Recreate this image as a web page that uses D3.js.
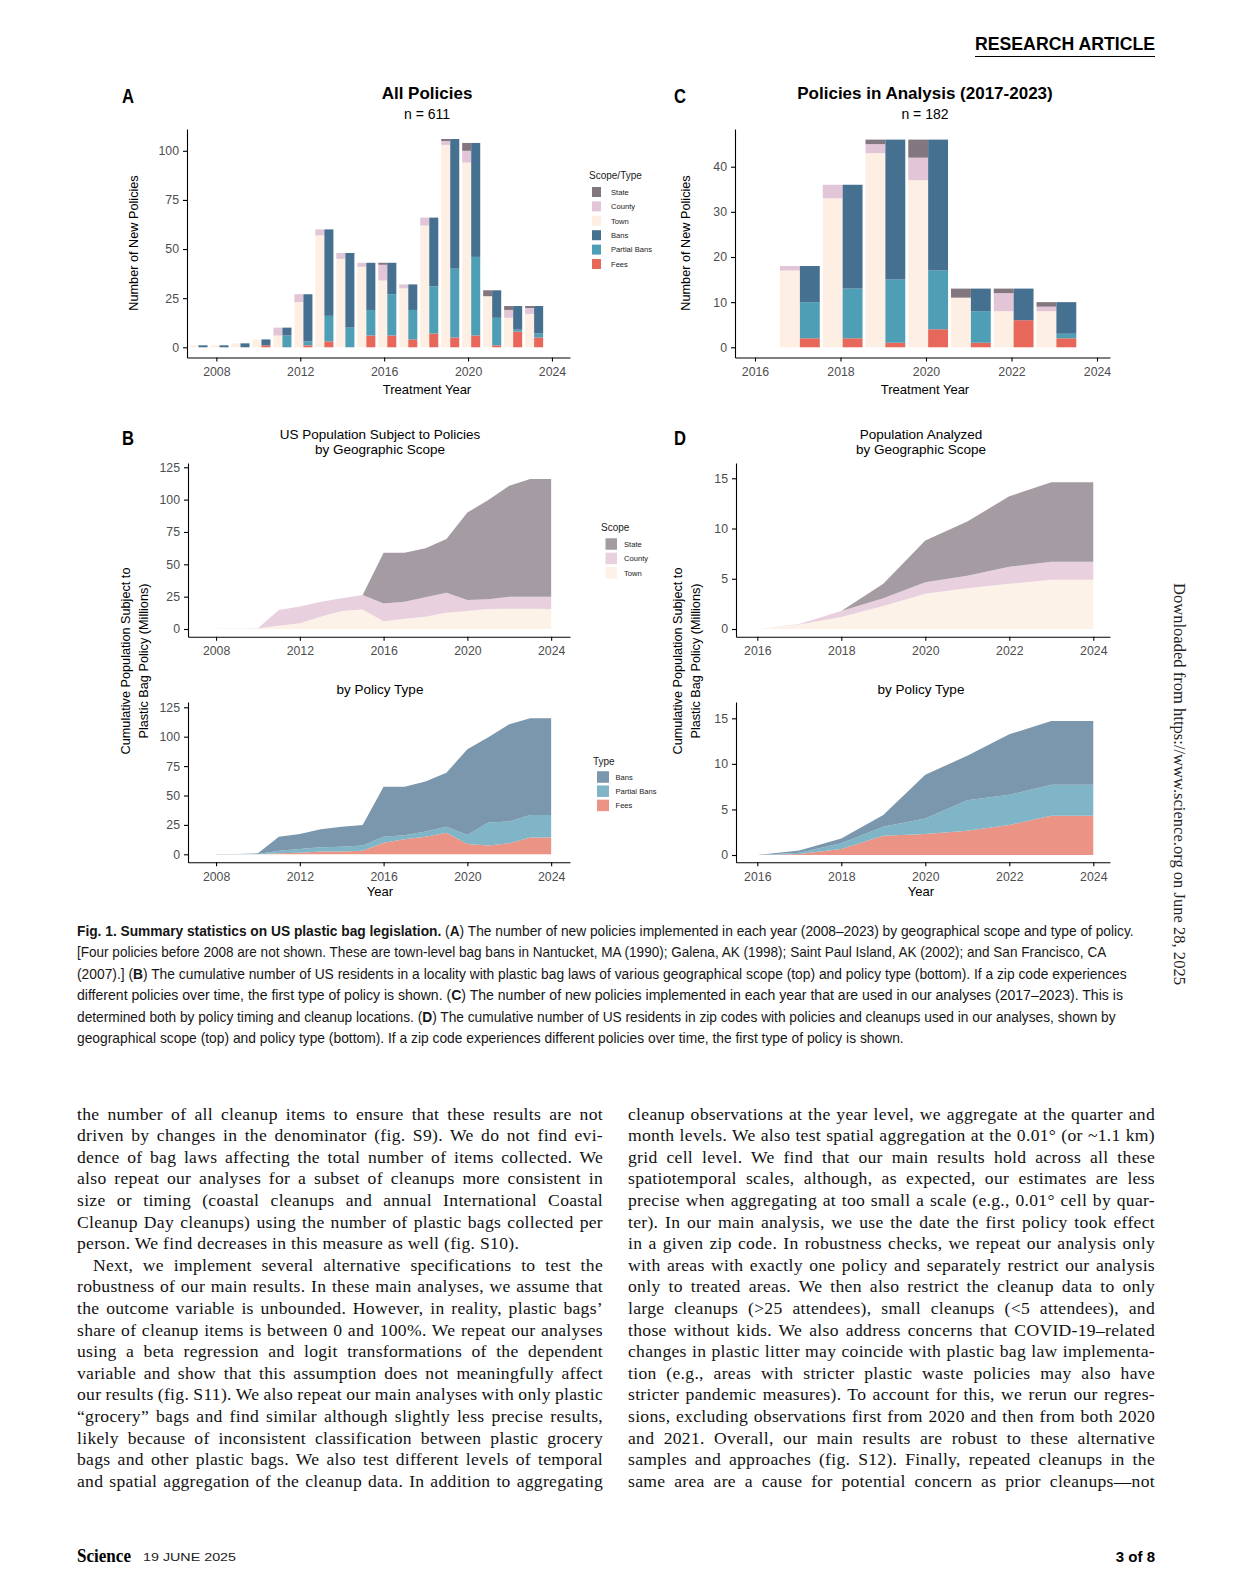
<!DOCTYPE html>
<html>
<head>
<meta charset="utf-8">
<script src="https://cdn.jsdelivr.net/npm/d3@7"></script>
<style>
  html, body { margin: 0; padding: 0; background: #fff; overflow: hidden; }
  #page { position: relative; width: 1238px; height: 1575px; overflow: hidden; }
</style>
</head>
<body>
<div id="page"></div>
<script>
'use strict';

var SANS = "'Liberation Sans', Arial, Helvetica, sans-serif";
var NARROW = "'Liberation Sans Narrow', 'Liberation Sans', Arial, sans-serif";
var SERIF = "'Liberation Serif', 'Times New Roman', serif";

// ---- panel A: new policies per year (all) ----
var yearsA = [2007, 2008, 2009, 2010, 2011, 2012, 2013, 2014, 2015, 2016, 2017, 2018, 2019, 2020, 2021, 2022, 2023];
var stateA = [0, 0, 0, 0, 0, 0, 0, 0, 0, 1, 0, 0, 1, 4, 3, 2, 1];
var countyA = [0, 0, 0, 0, 4, 4, 3, 3, 2, 8, 2, 4, 2, 6, 0, 4, 3];
var townA = [1, 1, 2, 4, 6, 23, 57, 45, 41, 34, 30, 62, 103, 94, 26, 15, 17];
var bansA = [1, 1, 2, 3, 4, 24, 44, 38, 24, 16, 13, 35, 66, 58, 14, 12, 14];
var partialA = [0, 0, 0, 0, 6, 2, 13, 10, 13, 21, 15, 24, 35, 40, 14, 1, 2];
var feesA = [0, 0, 0, 1, 0, 1, 3, 0, 6, 6, 4, 7, 5, 6, 1, 8, 5];

// ---- panel C: policies in analysis ----
var yearsC = [2017, 2018, 2019, 2020, 2021, 2022, 2023];
var stateC = [0, 0, 1, 4, 2, 1, 1];
var countyC = [1, 3, 2, 5, 0, 4, 1];
var townC = [17, 33, 43, 37, 11, 8, 8];
var bansC = [8, 23, 31, 29, 5, 7, 7];
var partialC = [8, 11, 14, 13, 7, 0, 1];
var feesC = [2, 2, 1, 4, 1, 6, 2];

// ---- panel B: cumulative population (millions) ----
var yearsB = [2008, 2009, 2010, 2011, 2012, 2013, 2014, 2015, 2016, 2017, 2018, 2019, 2020, 2021, 2022, 2023, 2024];
var townB = [0.3, 0.3, 0.3, 2.6, 4.4, 9.5, 14, 15, 6, 8, 9.5, 12.6, 14, 15.5, 15.7, 15.7, 15.5];
var countyB = [0, 0, 0.3, 12.1, 12.9, 11.5, 9.7, 11.3, 13.8, 13, 15, 15.4, 8.4, 7.5, 9.3, 9.3, 9.5];
var stateB = [0, 0, 0, 0, 0, 0, 0, 0, 39.2, 38, 37.9, 41.6, 67.6, 76.7, 85.8, 91, 91];
var feesB = [0, 0, 0, 0.9, 1.4, 2.3, 2.3, 3.1, 9.9, 12.8, 15, 18.4, 8.8, 7.4, 9.4, 14.2, 14.2];
var partialB = [0, 0, 0.3, 2.2, 3.1, 3.7, 4.2, 4.3, 5.1, 3.4, 4.3, 5.1, 7.6, 19.6, 18.4, 19.2, 19.2];
var bansB = [0.3, 0.3, 0.5, 11.9, 12.8, 15.3, 17, 17.6, 42.5, 41.3, 42.5, 45.9, 72.9, 72.5, 82.7, 82.2, 82.2];

// ---- panel D: population analyzed (millions) ----
var yearsD = [2016, 2017, 2018, 2019, 2020, 2021, 2022, 2023, 2024];
var townD = [0, 0.45, 1.2, 2.3, 3.5, 4.05, 4.5, 4.9, 4.9];
var countyD = [0, 0.05, 0.6, 0.75, 1.15, 1.25, 1.7, 1.8, 1.8];
var stateD = [0, 0, 0, 1.45, 4.15, 5.4, 7.0, 7.9, 7.9];
var feesD = [0, 0.1, 0.66, 2.1, 2.3, 2.67, 3.3, 4.3, 4.3];
var partialD = [0, 0.16, 0.62, 1.0, 1.7, 3.33, 3.3, 3.4, 3.4];
var bansD = [0, 0.24, 0.52, 1.3, 4.8, 4.9, 6.65, 7.0, 7.0];

var scopeKeys = ["Town", "County", "State"];
var typeKeys = ["Fees", "Partial Bans", "Bans"];
var legendScopeType = ["State", "County", "Town", "Bans", "Partial Bans", "Fees"];
var legendScope = ["State", "County", "Town"];
var legendType = ["Bans", "Partial Bans", "Fees"];

var barColors = { "State": "#82767f", "County": "#e2c5d7", "Town": "#fdefe3", "Bans": "#46708f", "Partial Bans": "#4e9fb6", "Fees": "#e7675a" };
var areaColors = { "State": "#a59ca3", "County": "#e8d0de", "Town": "#fdf2e8", "Bans": "#7b97ad", "Partial Bans": "#7fb5c7", "Fees": "#eb9385" };

var yearsTicksLong = [2008, 2012, 2016, 2020, 2024];
var yearsTicksShort = [2016, 2018, 2020, 2022, 2024];

var svg = d3.select("#page").append("svg")
  .attr("width", 1238).attr("height", 1575)
  .style("position", "absolute").style("left", 0).style("top", 0);

function txt(x, y, s, size, opts) {
  opts = opts || {};
  var t = svg.append("text")
    .attr("x", x).attr("y", y)
    .attr("font-family", opts.family || SANS)
    .attr("font-size", size)
    .attr("font-weight", opts.weight || "normal")
    .attr("fill", opts.fill || "#000")
    .attr("text-anchor", opts.anchor || "start")
    .text(s);
  if (opts.len) t.attr("textLength", opts.len).attr("lengthAdjust", "spacingAndGlyphs");
  if (opts.transform) t.attr("transform", opts.transform);
  return t;
}

function styleAxis(g) {
  g.attr("font-size", null).attr("font-family", null);
  g.select(".domain").attr("stroke", "#000").attr("stroke-width", 1.1);
  g.selectAll(".tick line").attr("stroke", "#000").attr("stroke-width", 1.1);
  g.selectAll(".tick text").attr("fill", "#4d4d4d")
    .style("font-size", "12.3px").style("font-family", SANS);
}

function axes(g, x, y, xt, yt) {
  var gx = g.append("g")
    .attr("transform", "translate(0," + y.range()[0] + ")")
    .call(d3.axisBottom(x).tickValues(xt).tickFormat(d3.format("d"))
      .tickSize(4).tickPadding(6).tickSizeOuter(0));
  var gy = g.append("g")
    .attr("transform", "translate(" + x.range()[0] + ",0)")
    .call(d3.axisLeft(y).tickValues(yt).tickSize(4).tickPadding(4).tickSizeOuter(0));
  styleAxis(gx);
  styleAxis(gy);
}

function barPanel(o) {
  var x = d3.scaleLinear().domain(o.xDom).range(o.xRange);
  var y = d3.scaleLinear().domain(o.yDom).range(o.yRange);
  var rows = o.years.map(function (yr, i) {
    return { year: yr, "Town": o.town[i], "County": o.county[i], "State": o.state[i],
      "Fees": o.fees[i], "Partial Bans": o.partial[i], "Bans": o.bans[i] };
  });
  var g = svg.append("g");
  [[scopeKeys, -o.barW, 0], [typeKeys, 0, o.barW]].forEach(function (s) {
    d3.stack().keys(s[0])(rows).forEach(function (layer) {
      g.append("g").attr("fill", barColors[layer.key])
        .selectAll("rect")
        .data(layer.filter(function (d) { return d[1] > d[0]; }))
        .join("rect")
        .attr("x", function (d) { return x(d.data.year + o.offset + s[1]); })
        .attr("width", function (d) { return x(d.data.year + o.offset + s[2]) - x(d.data.year + o.offset + s[1]); })
        .attr("y", function (d) { return y(d[1]); })
        .attr("height", function (d) { return y(d[0]) - y(d[1]); });
    });
  });
  axes(g, x, y, o.xTicks, o.yTicks);
}

function areaPanel(o) {
  var x = d3.scaleLinear().domain(o.xDom).range(o.xRange);
  var y = d3.scaleLinear().domain(o.yDom).range(o.yRange);
  var rows = o.years.map(function (yr, i) {
    var r = { year: yr };
    o.keys.forEach(function (k, j) { r[k] = o.series[j][i]; });
    return r;
  });
  var area = d3.area()
    .x(function (d) { return x(d.data.year); })
    .y0(function (d) { return y(d[0]); })
    .y1(function (d) { return y(d[1]); });
  var g = svg.append("g");
  g.selectAll("path.layer")
    .data(d3.stack().keys(o.keys)(rows))
    .join("path")
    .attr("class", "layer")
    .attr("fill", function (d) { return areaColors[d.key]; })
    .attr("d", area);
  axes(g, x, y, o.xTicks, o.yTicks);
}

function legend(o) {
  txt(o.x, o.titleY, o.title, o.titleSize, { fill: "#1a1a1a" });
  o.keys.forEach(function (k, i) {
    var cy = o.rowY + i * o.step;
    svg.append("rect").attr("x", o.keyX).attr("y", cy - o.keyH / 2)
      .attr("width", o.keyW).attr("height", o.keyH).attr("fill", o.colors[k]);
    txt(o.labelX, cy + 2.7, k, 7.6, { fill: "#1a1a1a" });
  });
}

// ---------- header ----------
txt(1155, 50, "RESEARCH ARTICLE", 18, { weight: "bold", anchor: "end", family: NARROW, len: 180 });
svg.append("line").attr("x1", 975).attr("x2", 1155).attr("y1", 56.5).attr("y2", 56.5)
  .attr("stroke", "#000").attr("stroke-width", 1);

// panel letters
txt(122, 103, "A", 21, { weight: "bold", family: NARROW, len: 12 });
txt(674, 103, "C", 21, { weight: "bold", family: NARROW, len: 12 });
txt(122, 445, "B", 21, { weight: "bold", family: NARROW, len: 12 });
txt(674, 445, "D", 21, { weight: "bold", family: NARROW, len: 12 });

// ---------- panel A ----------
barPanel({
  years: yearsA, state: stateA, county: countyA, town: townA,
  bans: bansA, partial: partialA, fees: feesA,
  xDom: [2006.6, 2024.86], xRange: [187, 570],
  yDom: [-5.2, 111.1], yRange: [357.5, 129],
  xTicks: yearsTicksLong, yTicks: [0, 25, 50, 75, 100],
  offset: 0.15, barW: 0.43
});
txt(427, 99, "All Policies", 17, { weight: "bold", anchor: "middle" });
txt(427, 119, "n = 611", 14, { anchor: "middle" });
txt(427, 394, "Treatment Year", 13, { anchor: "middle" });
txt(0, 0, "Number of New Policies", 12.7, { anchor: "middle", transform: "translate(137.5,243) rotate(-90)" });
legend({ x: 589, titleY: 179, title: "Scope/Type", titleSize: 10, keys: legendScopeType, colors: barColors,
  rowY: 192, step: 14.4, keyX: 592, keyW: 9, keyH: 10, labelX: 611 });

// ---------- panel C ----------
barPanel({
  years: yearsC, state: stateC, county: countyC, town: townC,
  bans: bansC, partial: partialC, fees: feesC,
  xDom: [2015.532, 2024.304], xRange: [735, 1110],
  yDom: [-2.26, 48.35], yRange: [357.5, 129],
  xTicks: yearsTicksShort, yTicks: [0, 10, 20, 30, 40],
  offset: 0.05, barW: 0.465
});
txt(925, 99, "Policies in Analysis (2017-2023)", 17, { weight: "bold", anchor: "middle" });
txt(925, 119, "n = 182", 14, { anchor: "middle" });
txt(925, 394, "Treatment Year", 13, { anchor: "middle" });
txt(0, 0, "Number of New Policies", 12.7, { anchor: "middle", transform: "translate(689.5,243) rotate(-90)" });

// ---------- panel B ----------
areaPanel({
  years: yearsB, keys: scopeKeys, series: [townB, countyB, stateB],
  xDom: [2006.66, 2024.9], xRange: [188, 570],
  yDom: [-5.95, 128.3], yRange: [636.7, 463],
  xTicks: yearsTicksLong, yTicks: [0, 25, 50, 75, 100, 125]
});
areaPanel({
  years: yearsB, keys: typeKeys, series: [feesB, partialB, bansB],
  xDom: [2006.66, 2024.9], xRange: [188, 570],
  yDom: [-6.8, 129.5], yRange: [862.3, 702],
  xTicks: yearsTicksLong, yTicks: [0, 25, 50, 75, 100, 125]
});
txt(380, 439, "US Population Subject to Policies", 13.5, { anchor: "middle" });
txt(380, 454, "by Geographic Scope", 13.5, { anchor: "middle" });
txt(380, 694, "by Policy Type", 13.5, { anchor: "middle" });
txt(380, 896, "Year", 13, { anchor: "middle" });
txt(0, 0, "Cumulative Population Subject to", 12.7, { anchor: "middle", transform: "translate(129.5,661) rotate(-90)" });
txt(0, 0, "Plastic Bag Policy (Millions)", 12.7, { anchor: "middle", transform: "translate(147.5,661) rotate(-90)" });
legend({ x: 601, titleY: 531, title: "Scope", titleSize: 10, keys: legendScope, colors: areaColors,
  rowY: 544, step: 14.4, keyX: 605.5, keyW: 11.5, keyH: 11.5, labelX: 624 });
legend({ x: 593, titleY: 764.5, title: "Type", titleSize: 10, keys: legendType, colors: areaColors,
  rowY: 777, step: 14.2, keyX: 597, keyW: 12, keyH: 11.5, labelX: 615.5 });

// ---------- panel D ----------
areaPanel({
  years: yearsD, keys: scopeKeys, series: [townD, countyD, stateD],
  xDom: [2015.493, 2024.398], xRange: [736, 1110],
  yDom: [-0.766, 16.52], yRange: [636.7, 463],
  xTicks: yearsTicksShort, yTicks: [0, 5, 10, 15]
});
areaPanel({
  years: yearsD, keys: typeKeys, series: [feesD, partialD, bansD],
  xDom: [2015.493, 2024.398], xRange: [736, 1110],
  yDom: [-0.8, 16.79], yRange: [862.3, 702],
  xTicks: yearsTicksShort, yTicks: [0, 5, 10, 15]
});
txt(921, 439, "Population Analyzed", 13.5, { anchor: "middle" });
txt(921, 454, "by Geographic Scope", 13.5, { anchor: "middle" });
txt(921, 694, "by Policy Type", 13.5, { anchor: "middle" });
txt(921, 896, "Year", 13, { anchor: "middle" });
txt(0, 0, "Cumulative Population Subject to", 12.7, { anchor: "middle", transform: "translate(681.5,661) rotate(-90)" });
txt(0, 0, "Plastic Bag Policy (Millions)", 12.7, { anchor: "middle", transform: "translate(699.5,661) rotate(-90)" });

// ---------- caption ----------
var capLines = [
  [["b", "Fig. 1. Summary statistics on US plastic bag legislation."], ["n", " ("], ["b", "A"], ["n", ") The number of new policies implemented in each year (2008–2023) by geographical scope and type of policy."]],
  [["n", "[Four policies before 2008 are not shown. These are town-level bag bans in Nantucket, MA (1990); Galena, AK (1998); Saint Paul Island, AK (2002); and San Francisco, CA"]],
  [["n", "(2007).] ("], ["b", "B"], ["n", ") The cumulative number of US residents in a locality with plastic bag laws of various geographical scope (top) and policy type (bottom). If a zip code experiences"]],
  [["n", "different policies over time, the first type of policy is shown. ("], ["b", "C"], ["n", ") The number of new policies implemented in each year that are used in our analyses (2017–2023). This is"]],
  [["n", "determined both by policy timing and cleanup locations. ("], ["b", "D"], ["n", ") The cumulative number of US residents in zip codes with policies and cleanups used in our analyses, shown by"]],
  [["n", "geographical scope (top) and policy type (bottom). If a zip code experiences different policies over time, the first type of policy is shown."]]
];
var capWidths = [1058, 1030, 1051, 1047, 1040, 828];
capLines.forEach(function (parts, i) {
  var t = svg.append("text")
    .attr("x", 0).attr("y", 0)
    .attr("font-family", NARROW).attr("font-size", 15).attr("fill", "#161616")
    .attr("xml:space", "preserve");
  parts.forEach(function (p) {
    t.append("tspan").attr("font-weight", p[0] === "b" ? "bold" : "normal").text(p[1]);
  });
  var k = capWidths[i] / t.node().getComputedTextLength();
  t.attr("transform", "translate(77," + (936 + i * 21.4) + ") scale(" + k + ",1)");
});

// ---------- body text ----------
var leftLines = [
  "the number of all cleanup items to ensure that these results are not",
  "driven by changes in the denominator (fig. S9). We do not find evi-",
  "dence of bag laws affecting the total number of items collected. We",
  "also repeat our analyses for a subset of cleanups more consistent in",
  "size or timing (coastal cleanups and annual International Coastal",
  "Cleanup Day cleanups) using the number of plastic bags collected per",
  "person. We find decreases in this measure as well (fig. S10).",
  "Next, we implement several alternative specifications to test the",
  "robustness of our main results. In these main analyses, we assume that",
  "the outcome variable is unbounded. However, in reality, plastic bags’",
  "share of cleanup items is between 0 and 100%. We repeat our analyses",
  "using a beta regression and logit transformations of the dependent",
  "variable and show that this assumption does not meaningfully affect",
  "our results (fig. S11). We also repeat our main analyses with only plastic",
  "“grocery” bags and find similar although slightly less precise results,",
  "likely because of inconsistent classification between plastic grocery",
  "bags and other plastic bags. We also test different levels of temporal",
  "and spatial aggregation of the cleanup data. In addition to aggregating"
];
var rightLines = [
  "cleanup observations at the year level, we aggregate at the quarter and",
  "month levels. We also test spatial aggregation at the 0.01° (or ~1.1 km)",
  "grid cell level. We find that our main results hold across all these",
  "spatiotemporal scales, although, as expected, our estimates are less",
  "precise when aggregating at too small a scale (e.g., 0.01° cell by quar-",
  "ter). In our main analysis, we use the date the first policy took effect",
  "in a given zip code. In robustness checks, we repeat our analysis only",
  "with areas with exactly one policy and separately restrict our analysis",
  "only to treated areas. We then also restrict the cleanup data to only",
  "large cleanups (>25 attendees), small cleanups (<5 attendees), and",
  "those without kids. We also address concerns that COVID-19–related",
  "changes in plastic litter may coincide with plastic bag law implementa-",
  "tion (e.g., areas with stricter plastic waste policies may also have",
  "stricter pandemic measures). To account for this, we rerun our regres-",
  "sions, excluding observations first from 2020 and then from both 2020",
  "and 2021. Overall, our main results are robust to these alternative",
  "samples and approaches (fig. S12). Finally, repeated cleanups in the",
  "same area are a cause for potential concern as prior cleanups—not"
];

function bodyColumn(lines, x0, x1, raggedIdx, indentIdx) {
  lines.forEach(function (s, i) {
    var xs = x0 + (i === indentIdx ? 16 : 0);
    var t = svg.append("text")
      .attr("x", xs).attr("y", 1119.5 + i * 21.6)
      .attr("font-family", SERIF).attr("font-size", 17.6).attr("fill", "#111")
      .attr("letter-spacing", 0.3)
      .text(s);
    if (i === raggedIdx) return;
    var w = t.node().getComputedTextLength();
    var n = (s.match(/ /g) || []).length;
    if (n) t.attr("word-spacing", ((x1 - xs) - w) / n);
  });
}
bodyColumn(leftLines, 77, 603, 6, 7);
bodyColumn(rightLines, 628, 1155, -1, -1);

// ---------- footer & margin ----------
txt(77, 1562, "Science", 18.5, { family: SERIF, weight: "bold", len: 54 });
txt(143, 1561, "19 JUNE 2025", 11.5, { fill: "#222", len: 93 });
txt(1155, 1562, "3 of 8", 15, { weight: "bold", anchor: "end" });
txt(0, 0, "Downloaded from https://www.science.org on June 28, 2025", 16.5,
  { family: SERIF, fill: "#222", len: 402, transform: "translate(1173.5,583) rotate(90)" });
</script>
</body>
</html>
